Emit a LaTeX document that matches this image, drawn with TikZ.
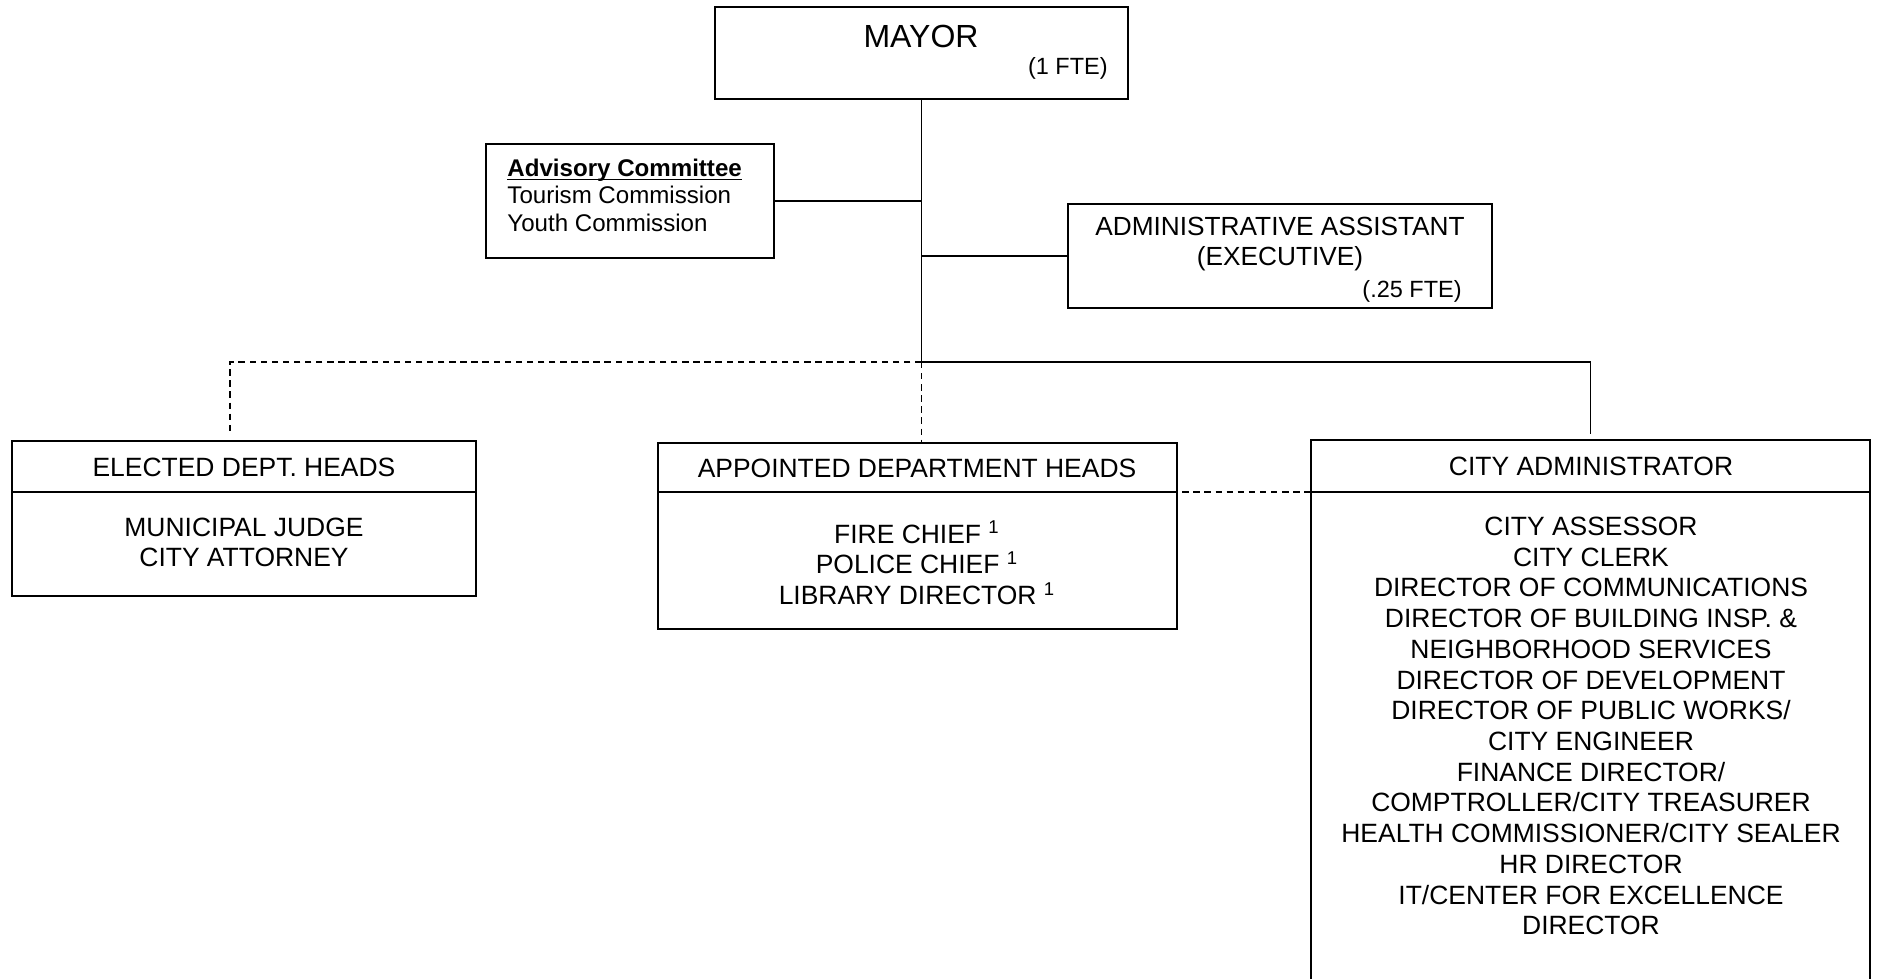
\documentclass[tikz,border=0pt]{standalone}
\usepackage{fontspec}
\setmainfont{Liberation Sans}
\usepackage{tikz}
\providecommand{\bigfont}{\fontsize{15}{17}\selectfont}
\providecommand{\bodyfont}{\fontsize{12.4}{14.4}\selectfont}
\providecommand{\asstfont}{\fontsize{12.3}{14.1}\selectfont}
\providecommand{\advfont}{\fontsize{11.3}{12.9}\selectfont}
\providecommand{\smallfont}{\fontsize{11}{12}\selectfont}
\providecommand{\fn}{\textsuperscript{1}}
\tikzstyle{block} = [draw, rectangle, line width=0.9pt, inner sep=0pt]
\tikzstyle{txt} = [inner sep=0pt, align=center]
\tikzstyle{link} = [line width=0.9pt]
\tikzstyle{dashlink} = [link, dash pattern=on 3pt off 2.2pt]

\begin{document}
\begin{tikzpicture}[x=0.46875pt, y=-0.46875pt]
    \useasboundingbox (0,0) rectangle (1879,979);
    \node [block, minimum width=193.6pt, minimum height=43.1pt] (mayor) at (921.5,53) {};
    \node [txt, font=\bigfont] (mayorname) at (921,36) {MAYOR};
    \node [txt, font=\smallfont, anchor=east] (mayorfte) at (1108,68) {(1 FTE)};

    \node [block, minimum width=135pt, minimum height=53.4pt] (adv) at (630,201) {};
    \node [txt, align=left, anchor=west, font=\advfont] (advtext) at (507,204) {\underline{\smash{\textbf{Advisory Committee}}}\\Tourism Commission\\Youth Commission};

    \node [block, minimum width=198.75pt, minimum height=48.75pt] (asst) at (1280,256) {};
    \node [txt, font=\asstfont] (assttext) at (1280,244) {ADMINISTRATIVE ASSISTANT\\(EXECUTIVE)};
    \node [txt, font=\smallfont, anchor=east] (asstfte) at (1462,291) {(.25 FTE)};

    \node [block, minimum width=217.5pt, minimum height=72.7pt] (elected) at (244,518.5) {};
    \node [txt, font=\bodyfont] (eltitle) at (244,467) {ELECTED DEPT. HEADS};
    \node [txt, font=\bodyfont] (elitems) at (244,542.5) {MUNICIPAL JUDGE\\CITY ATTORNEY};

    \node [block, minimum width=243.3pt, minimum height=87.2pt] (appt) at (917.5,536) {};
    \node [txt, font=\bodyfont] (apptitle) at (917,468) {APPOINTED DEPARTMENT HEADS};
    \node [txt, font=\bodyfont] (appitems) at (917,563) {FIRE CHIEF \fn\\POLICE CHIEF \fn\\LIBRARY DIRECTOR \fn};

    \node [block, minimum width=262pt, minimum height=267.2pt] (city) at (1590.5,725) {};
    \node [txt, font=\bodyfont] (citytitle) at (1591,466) {CITY ADMINISTRATOR};
    \node [txt, font=\bodyfont] (cityitems) at (1591,726) {CITY ASSESSOR\\CITY CLERK\\DIRECTOR OF COMMUNICATIONS\\DIRECTOR OF BUILDING INSP. \&\\NEIGHBORHOOD SERVICES\\DIRECTOR OF DEVELOPMENT\\DIRECTOR OF PUBLIC WORKS/\\CITY ENGINEER\\FINANCE DIRECTOR/\\COMPTROLLER/CITY TREASURER\\HEALTH COMMISSIONER/CITY SEALER\\HR DIRECTOR\\IT/CENTER FOR EXCELLENCE\\DIRECTOR};

    % Dividers under the headings
    \coordinate (div) at (0,492);
    \draw [link] (elected.west |- div) -- (elected.east |- div);
    \draw [link] (appt.west |- div) -- (appt.east |- div);
    \draw [link] (city.west |- div) -- (city.east |- div);

    % Reporting lines
    \coordinate (trunk) at (921.5,362);
    \draw [link] (mayor) -- (trunk);
    \draw [link] (adv) -- (adv -| trunk);
    \draw [link] (asst) -- (asst -| trunk);
    \draw [link, shorten >=2.3pt] (trunk) -| (city.north);
    \draw [dashlink, shorten >=4.2pt] (trunk) -| ([xshift=-6.6pt]elected.north);
    \draw [dashlink] (trunk) -- (trunk |- appt.north);
    \draw [dashlink] ([xshift=-8.4pt]appt.east |- div) -- ([xshift=14.5pt]city.west |- div);
\end{tikzpicture}
\end{document}
